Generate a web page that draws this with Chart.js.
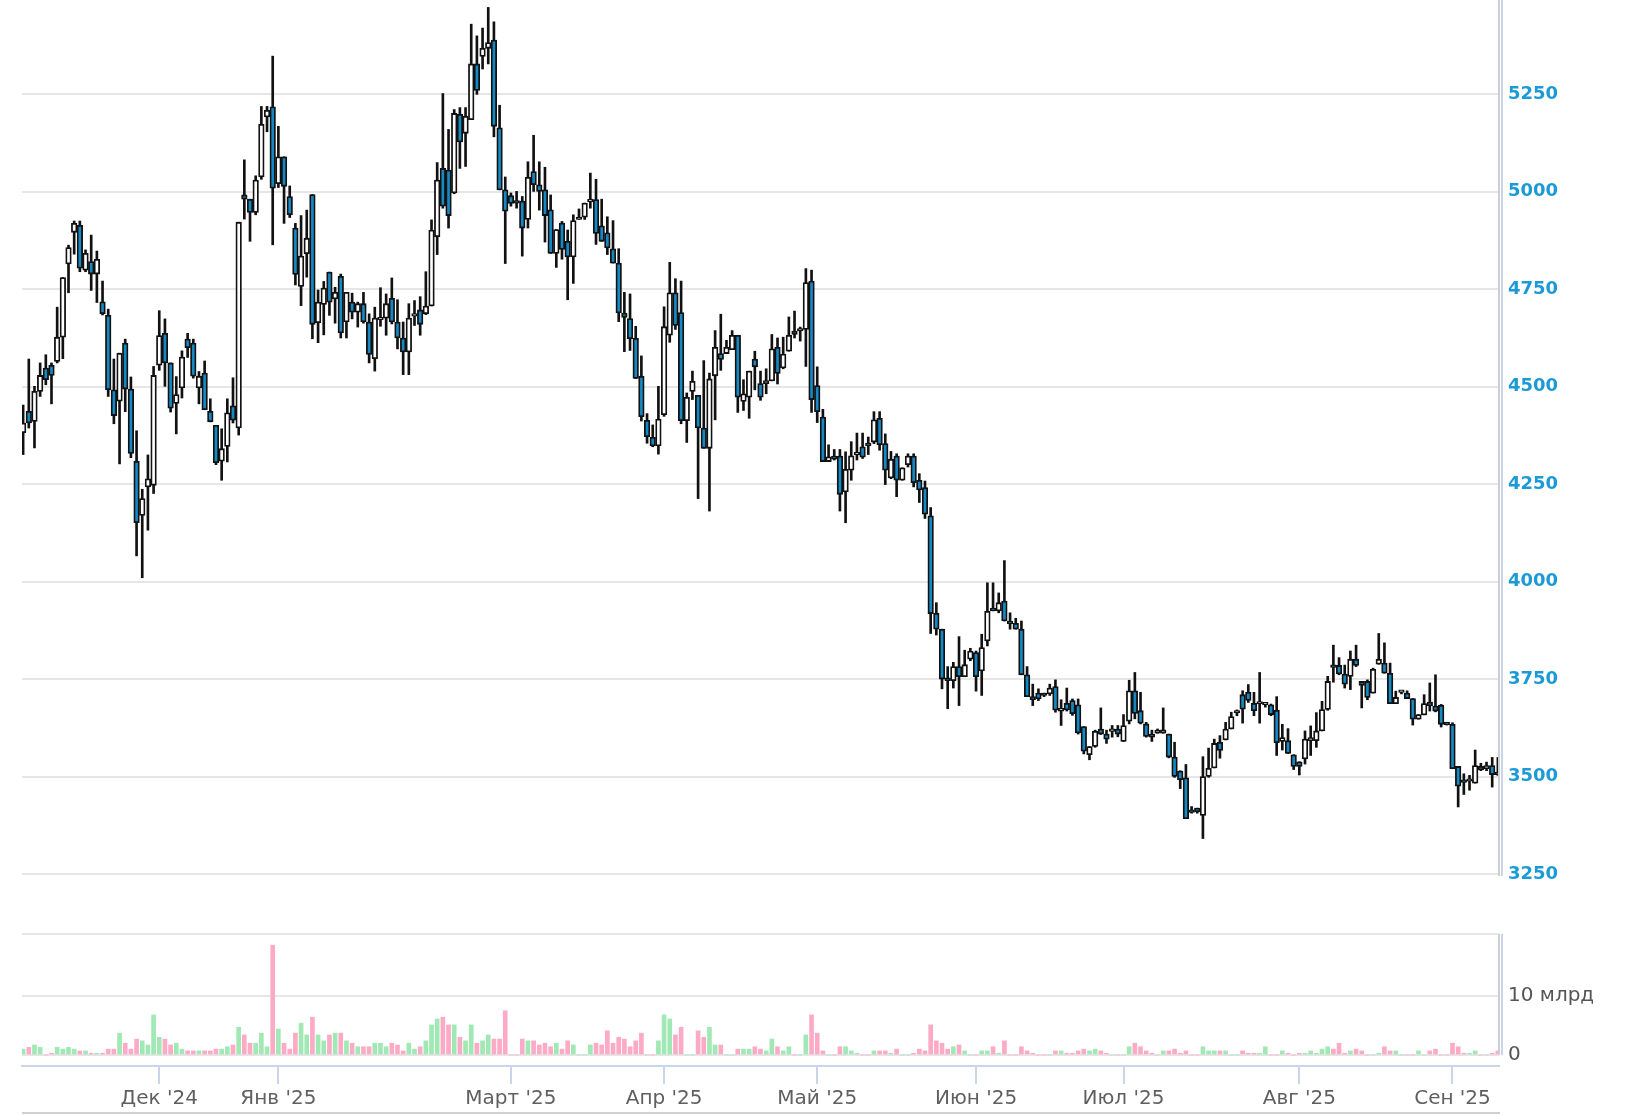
<!DOCTYPE html>
<html>
<head>
<meta charset="utf-8">
<title>Candles</title>
<script src="https://cdn.jsdelivr.net/npm/chart.js@4.4.1/dist/chart.umd.min.js"></script>
<style>
  html, body { margin: 0; padding: 0; background: #fff; }
  #wrap { position: relative; width: 1628px; height: 1115px; overflow: hidden; }
  #priceBox { position: absolute; left: 0; top: 0; width: 1628px; height: 900px; }
  #volBox { position: absolute; left: 0; top: 900px; width: 1628px; height: 215px; }
</style>
</head>
<body>
<div id="wrap">
  <div id="priceBox"><canvas id="priceChart"></canvas></div>
  <div id="volBox"><canvas id="volChart"></canvas></div>
</div>
<script>
// daily candles (one entry per trading day)
const opens = [
  4382,4437,4411,4488,4548,4555,4565,4627,4815,4896,
  4914,4799,4821,4789,4718,4683,4492,4463,4612,4494,
  4309,4170,4243,4247,4555,4637,4561,4457,4497,4622,
  4612,4497,4535,4437,4401,4309,4347,4451,4394,4992,
  4981,4947,5038,5192,5218,5021,5090,4988,4907,4757,
  4841,4993,4664,4711,4794,4725,4783,4666,4717,4691,
  4713,4666,4572,4672,4676,4727,4666,4625,4589,4681,
  4697,4687,4707,4885,5060,5056,4997,5199,5150,5185,
  5328,5347,5368,5389,5164,5005,4990,4973,4976,4929,
  5052,5018,5005,4954,4842,4920,4873,4833,4929,4935,
  4974,4980,4913,4895,4854,4817,4689,4675,4624,4527,
  4414,4370,4348,4428,4632,4741,4690,4413,4488,4478,
  4394,4342,4528,4585,4585,4595,4632,4462,4473,4571,
  4508,4508,4515,4601,4548,4591,4643,4643,4647,4771,
  4503,4422,4308,4322,4322,4230,4286,4325,4346,4355,
  4358,4419,4354,4266,4322,4260,4300,4322,4260,4241,
  4169,3919,3878,3753,3746,3782,3756,3801,3818,3771,
  3848,3929,3925,3950,3899,3893,3878,3761,3705,3714,
  3710,3712,3731,3668,3688,3695,3684,3628,3556,3577,
  3622,3609,3616,3622,3590,3642,3720,3669,3635,3609,
  3611,3611,3609,3550,3514,3497,3409,3419,3400,3500,
  3522,3588,3594,3622,3663,3710,3716,3688,3686,3684,
  3684,3670,3590,3592,3556,3538,3545,3592,3592,3617,
  3672,3785,3785,3763,3757,3801,3744,3744,3714,3788,
  3791,3765,3687,3716,3714,3700,3647,3658,3691,3681,
  3683,3634,3634,3526,3490,3488,3483,3526,3520,3528,3506
];
const highs = [
  4453,4571,4501,4561,4582,4561,4704,4780,4863,4925,
  4925,4851,4889,4848,4771,4699,4571,4586,4622,4525,
  4387,4237,4325,4552,4695,4674,4561,4526,4592,4637,
  4622,4539,4566,4469,4401,4392,4469,4523,4922,5082,
  4981,5041,5219,5219,5348,5168,5090,5015,4919,4939,
  4953,4993,4748,4770,4794,4755,4789,4742,4740,4717,
  4742,4687,4704,4754,4738,4779,4723,4666,4713,4721,
  4731,4795,4928,5075,5252,5160,5211,5216,5216,5430,
  5400,5420,5473,5436,5222,5038,4997,5001,4988,5077,
  5145,5077,5063,4992,4903,4924,4902,4941,4956,4971,
  5048,5032,4981,4936,4926,4854,4742,4738,4655,4579,
  4431,4402,4501,4705,4819,4777,4771,4484,4540,4478,
  4567,4535,4644,4686,4619,4644,4632,4518,4540,4591,
  4540,4546,4634,4625,4627,4679,4694,4653,4803,4799,
  4551,4442,4351,4339,4339,4333,4359,4381,4381,4371,
  4436,4436,4379,4334,4328,4292,4328,4328,4277,4258,
  4190,3946,3878,3782,3793,3859,3824,3829,3822,3865,
  3997,3997,3971,4054,3920,3906,3899,3782,3737,3725,
  3714,3737,3748,3697,3727,3699,3699,3628,3577,3619,
  3676,3619,3631,3631,3659,3747,3767,3716,3639,3619,
  3622,3676,3609,3588,3515,3531,3423,3419,3551,3573,
  3596,3605,3639,3665,3671,3720,3736,3716,3767,3690,
  3686,3705,3634,3623,3556,3538,3617,3630,3664,3693,
  3757,3837,3805,3786,3822,3837,3744,3748,3778,3867,
  3843,3791,3719,3720,3720,3700,3659,3710,3740,3761,
  3685,3636,3638,3526,3507,3503,3568,3534,3537,3549,3549
];
const lows = [
  4326,4394,4343,4475,4505,4456,4561,4572,4741,4840,
  4795,4795,4747,4716,4684,4475,4405,4302,4436,4318,
  4066,4010,4132,4226,4542,4501,4435,4379,4471,4575,
  4522,4456,4441,4410,4300,4260,4307,4407,4376,4930,
  4873,4941,5032,5154,4864,5011,4919,4934,4761,4708,
  4781,4623,4613,4633,4683,4663,4625,4625,4674,4653,
  4663,4561,4540,4655,4632,4661,4597,4531,4531,4657,
  4632,4685,4707,4839,4958,4907,4995,5060,5065,5185,
  5250,5315,5328,5141,5005,4816,4963,4958,4835,4907,
  5001,4953,4871,4842,4806,4827,4723,4765,4929,4929,
  4958,4865,4873,4839,4817,4667,4590,4593,4521,4412,
  4355,4346,4327,4424,4614,4647,4405,4357,4467,4213,
  4342,4181,4415,4542,4585,4595,4434,4439,4419,4492,
  4465,4482,4515,4507,4546,4591,4625,4617,4552,4434,
  4408,4308,4308,4312,4181,4151,4260,4312,4316,4326,
  4354,4337,4249,4264,4218,4260,4294,4243,4203,4162,
  3867,3863,3725,3674,3727,3682,3756,3797,3719,3708,
  3835,3925,3920,3899,3878,3878,3761,3705,3682,3695,
  3705,3708,3665,3631,3668,3657,3609,3558,3543,3575,
  3608,3585,3601,3602,3590,3635,3648,3635,3601,3590,
  3611,3611,3548,3498,3469,3392,3406,3406,3341,3498,
  3522,3547,3594,3622,3656,3637,3690,3656,3637,3678,
  3656,3554,3568,3559,3518,3504,3532,3554,3575,3617,
  3670,3742,3761,3727,3723,3782,3676,3697,3714,3788,
  3765,3687,3687,3712,3700,3632,3647,3658,3668,3666,
  3627,3632,3520,3422,3454,3465,3483,3515,3515,3473,3503
];
const closes = [
  4407,4407,4488,4529,4518,4529,4627,4780,4857,4919,
  4804,4842,4789,4827,4687,4492,4426,4586,4494,4329,
  4151,4213,4264,4529,4631,4561,4445,4480,4576,4600,
  4527,4527,4441,4410,4305,4341,4433,4414,4922,4981,
  4947,5030,5173,5209,5009,5090,5014,4941,4788,4835,
  4881,4660,4717,4753,4717,4742,4638,4742,4691,4713,
  4666,4583,4676,4676,4713,4666,4625,4589,4676,4683,
  4660,4707,4902,5030,4963,4939,5201,5128,5194,5328,
  5260,5368,5383,5168,5005,4950,4970,4971,4907,5037,
  5018,5001,4939,4842,4903,4852,4833,4926,4935,4971,
  4981,4893,4873,4856,4817,4689,4678,4623,4521,4423,
  4372,4348,4417,4654,4741,4657,4413,4473,4514,4394,
  4342,4520,4601,4570,4601,4632,4473,4482,4540,4551,
  4473,4516,4597,4534,4584,4632,4634,4647,4767,4467,
  4436,4308,4320,4314,4224,4288,4323,4329,4319,4349,
  4415,4351,4286,4314,4260,4292,4322,4254,4235,4173,
  3918,3878,3750,3746,3782,3756,3787,3822,3756,3831,
  3924,3925,3946,3899,3892,3878,3761,3705,3697,3699,
  3708,3727,3670,3675,3671,3661,3612,3565,3577,3616,
  3609,3596,3617,3609,3631,3720,3662,3637,3603,3601,
  3619,3620,3550,3500,3492,3392,3408,3409,3500,3521,
  3585,3567,3622,3654,3665,3673,3695,3669,3687,3685,
  3659,3587,3600,3559,3526,3526,3596,3600,3617,3672,
  3744,3780,3763,3737,3801,3785,3734,3703,3775,3801,
  3765,3687,3703,3717,3700,3647,3659,3687,3681,3668,
  3634,3633,3520,3475,3485,3490,3528,3517,3528,3505,3505
];
// volume, млрд
const volumes = [
  1.0,1.3,1.7,1.3,0,0.3,1.3,1.0,1.3,1.0,
  0.7,0.7,0.3,0.3,0.3,1.0,1.0,3.7,2.0,1.0,
  2.7,2.4,1.7,6.8,3.0,2.7,1.7,2.0,1.0,0.7,
  0.7,0.7,0.7,0.7,1.0,1.0,1.4,1.7,4.7,3.4,
  2.0,2.0,3.7,1.4,18.6,4.4,2.0,1.0,3.7,5.4,
  3.4,6.4,3.4,2.4,3.4,3.7,3.7,2.4,2.0,1.4,
  1.4,1.4,2.0,2.0,1.4,2.0,1.7,0.7,2.0,1.0,
  1.4,2.4,5.1,6.1,6.4,5.1,5.1,3.0,2.4,5.1,
  2.0,2.4,3.4,2.7,2.7,7.5,0,0,2.7,2.4,
  2.4,1.7,2.0,1.4,2.0,1.0,2.4,1.7,0,0,
  1.7,2.0,1.7,4.1,2.0,3.0,2.7,1.4,2.4,3.7,
  0,0,2.4,6.8,6.1,3.4,4.7,0,0,4.1,
  3.0,4.7,1.7,1.7,0,0,1.0,1.0,1.0,1.4,
  1.0,0.7,2.7,1.4,0.7,1.4,0,0,3.4,6.8,
  3.7,0.7,0,0,1.4,1.4,0.7,0.3,0,0,
  0.7,0.7,0.7,0.3,1.0,0,0,0.3,1.0,0.7,
  5.1,2.4,2.0,1.0,1.4,1.7,0.7,0,0,0.7,
  0.7,1.4,0.3,2.4,0,0,1.4,0.7,0.3,0,
  0,0,0.7,0.7,0.3,0.3,0.7,1.0,0.7,1.0,
  0.7,0.3,0,0,0,1.4,2.0,1.4,0.7,0.3,
  0,0.7,0.7,1.0,0.3,0.7,0,0,1.4,0.7,
  0.7,0.7,0.7,0,0,0.7,0.3,0.3,0.3,1.4,
  0,0,0.7,0.3,0,0.3,0.3,0.7,0.3,1.0,
  1.4,1.0,2.0,0.3,0.7,1.0,0.7,0,0,0.3,
  1.4,0.7,0.7,0,0,0,0.7,0,0.7,1.0,
  0,0,2.0,1.4,0.3,0.3,0.7,0,0,0.3,0.7
];

const monthTickIdx = [24, 45, 86, 113, 140, 168, 194, 225, 252];
const monthLabels = ["Дек '24", "Янв '25", "Март '25", "Апр '25", "Май '25", "Июн '25", "Июл '25", "Авг '25", "Сен '25"];
const priceTicks = [3250, 3500, 3750, 4000, 4250, 4500, 4750, 5000, 5250];
const volumeTicks = [0, 10];
const volumeTickLabels = ["0", "10 млрд"];

const DOWN = "#1689c5";
const UP = "#ffffff";
const GREEN = "#a0e8b4";
const PINK = "#fdaac6";
const GRID = "#e6e6e6";

Chart.defaults.font.family = "'DejaVu Sans', sans-serif";
Chart.defaults.animation = false;

const xMin = -0.2;
const xMax = opens.length - 1 + 0.2;

const isUp = i => closes[i] >= opens[i];

const priceEdge = {
  id: "priceEdge",
  afterDraw(chart) {
    const { ctx, chartArea } = chart;
    ctx.save();
    ctx.lineWidth = 2;
    ctx.strokeStyle = "#cfcfcf";
    ctx.beginPath();
    ctx.moveTo(chartArea.right, 0);
    ctx.lineTo(chartArea.right, chartArea.bottom + 2);
    ctx.stroke();
    ctx.strokeStyle = "#c9d6ea";
    ctx.beginPath();
    ctx.moveTo(chartArea.right + 3, 0);
    ctx.lineTo(chartArea.right + 3, chartArea.bottom + 2);
    ctx.stroke();
    ctx.restore();
  }
};

const volEdge = {
  id: "volEdge",
  afterDraw(chart) {
    const { ctx, chartArea } = chart;
    const zeroY = chart.scales.y.getPixelForValue(0);
    ctx.save();
    ctx.lineWidth = 2;
    ctx.strokeStyle = GRID;
    ctx.beginPath();
    ctx.moveTo(chartArea.left, chartArea.top);
    ctx.lineTo(chartArea.right, chartArea.top);
    ctx.stroke();
    ctx.strokeStyle = "#cfcfcf";
    ctx.beginPath();
    ctx.moveTo(chartArea.right, chartArea.top);
    ctx.lineTo(chartArea.right, zeroY);
    ctx.stroke();
    ctx.strokeStyle = "#c9d6ea";
    ctx.beginPath();
    ctx.moveTo(chartArea.right + 3, chartArea.top);
    ctx.lineTo(chartArea.right + 3, zeroY);
    ctx.stroke();
    ctx.strokeStyle = "#d0d0d0";
    ctx.beginPath();
    ctx.moveTo(chartArea.left, chart.height - 2);
    ctx.lineTo(chartArea.right + 1, chart.height - 2);
    ctx.stroke();
    ctx.restore();
  }
};

new Chart(document.getElementById("priceChart"), {
  type: "bar",
  data: {
    datasets: [
      {
        label: "body",
        order: 0,
        data: opens.map((o, i) => ({ x: i, y: [o, closes[i]] })),
        backgroundColor: opens.map((o, i) => isUp(i) ? UP : DOWN),
        borderColor: "#111",
        borderWidth: 1.8,
        borderSkipped: false,
        barThickness: 5.6,
        minBarLength: 2.5,
        grouped: false
      },
      {
        label: "wick",
        order: 1,
        data: lows.map((l, i) => ({ x: i, y: [l, highs[i]] })),
        backgroundColor: "#111",
        borderWidth: 0,
        barThickness: 2,
        grouped: false
      }
    ]
  },
  options: {
    responsive: true,
    maintainAspectRatio: false,
    events: [],
    layout: { padding: { left: 22, right: 0, top: 0, bottom: 26 } },
    plugins: { legend: { display: false }, tooltip: { enabled: false } },
    scales: {
      x: { type: "linear", min: xMin, max: xMax, offset: false, grid: { offset: false }, display: false },
      y: {
        position: "right",
        min: 3250,
        max: 5492,
        afterBuildTicks: s => { s.ticks = priceTicks.map(v => ({ value: v })); },
        afterFit: s => { s.width = 129; s.paddingTop = 0; s.paddingBottom = 0; },
        grid: { color: GRID, lineWidth: 2, drawTicks: false },
        border: { display: false },
        ticks: {
          padding: 9,
          color: "#1c9ad6",
          font: { size: 18, weight: "bold" },
          callback: v => String(v)
        }
      }
    }
  },
  plugins: [priceEdge]
});

new Chart(document.getElementById("volChart"), {
  type: "bar",
  data: {
    datasets: [{
      label: "volume",
      data: volumes.map((v, i) => ({ x: i, y: v })),
      backgroundColor: volumes.map((v, i) => isUp(i) ? GREEN : PINK),
      borderWidth: 0,
      barThickness: 4
    }]
  },
  options: {
    responsive: true,
    maintainAspectRatio: false,
    events: [],
    layout: { padding: { left: 22, right: 0, top: 34, bottom: 0 } },
    plugins: { legend: { display: false }, tooltip: { enabled: false } },
    scales: {
      x: {
        type: "linear",
        min: xMin,
        max: xMax,
        offset: false,
        afterBuildTicks: s => { s.ticks = monthTickIdx.map(v => ({ value: v })); },
        afterFit: s => { s.height = 49; s.paddingLeft = 0; s.paddingRight = 0; },
        grid: { offset: false, drawOnChartArea: false, tickLength: 18, color: "#c9d6ea", lineWidth: 2 },
        border: { color: "#c9d6ea", width: 2 },
        ticks: {
          autoSkip: false,
          maxRotation: 0,
          padding: 3,
          color: "#5f5f5f",
          font: { size: 20 },
          callback: (v, i) => monthLabels[i]
        }
      },
      y: {
        position: "right",
        min: -1.86,
        max: 20.5,
        afterBuildTicks: s => { s.ticks = volumeTicks.map(v => ({ value: v })); },
        afterFit: s => { s.width = 129; s.paddingTop = 0; s.paddingBottom = 0; },
        grid: { color: GRID, lineWidth: 2, drawTicks: false },
        border: { display: false },
        ticks: {
          padding: 9,
          color: "#555",
          font: { size: 20 },
          callback: (v, i) => volumeTickLabels[i]
        }
      }
    }
  },
  plugins: [volEdge]
});
</script>
</body>
</html>
